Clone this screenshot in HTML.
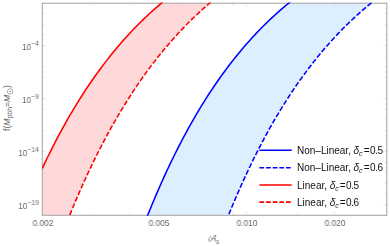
<!DOCTYPE html>
<html><head><meta charset="utf-8"><style>
html,body{margin:0;padding:0;background:#fff;}
body{width:390px;height:246px;position:relative;overflow:hidden;font-family:"Liberation Sans",sans-serif;}
.t{position:absolute;white-space:nowrap;line-height:1;will-change:transform;}
.xl{font-size:8.6px;color:#666;transform:translateX(-50%) scaleX(0.965);top:218.6px;}
.yl{font-size:8.6px;color:#666;text-align:right;right:350.7px;transform-origin:100% 50%;transform:scaleX(0.94);}
.yl sup{font-size:7px;vertical-align:baseline;position:relative;top:-3.6px;line-height:0;letter-spacing:0.25px;}
.lg{font-size:10px;color:#111;left:297.4px;}
.lg .e{margin-left:1.1px;}
.lg .d{letter-spacing:-0.35px;margin-left:0.35px;}
.lg i{margin-left:-0.2px;}
.lg i{font-style:italic;}
.sb{font-size:6.9px;vertical-align:baseline;position:relative;top:2.0px;line-height:0;}
.lg sub{font-size:7px;vertical-align:baseline;position:relative;top:1.6px;font-style:italic;line-height:0;}
</style></head><body>
<svg width="390" height="246" viewBox="0 0 390 246" style="position:absolute;left:0;top:0"><defs><clipPath id="cp"><rect x="42.3" y="3.2" width="344.5" height="212.10000000000002"/></clipPath><clipPath id="cp2"><rect x="41.9" y="2.5" width="345.3" height="213.3"/></clipPath></defs><g clip-path="url(#cp)"><path d="M42.30,168.32 L44.02,164.67 L45.74,161.07 L47.46,157.52 L49.19,154.02 L50.91,150.56 L52.63,147.15 L54.35,143.79 L56.07,140.47 L57.79,137.20 L59.51,133.97 L61.23,130.78 L62.96,127.64 L64.68,124.54 L66.40,121.48 L68.12,118.46 L69.84,115.48 L71.56,112.54 L73.28,109.64 L75.00,106.78 L76.73,103.96 L78.45,101.17 L80.17,98.43 L81.89,95.72 L83.61,93.04 L85.33,90.40 L87.05,87.80 L88.78,85.23 L90.50,82.70 L92.22,80.20 L93.94,77.73 L95.66,75.30 L97.38,72.90 L99.10,70.53 L100.82,68.19 L102.55,65.89 L104.27,63.61 L105.99,61.37 L107.71,59.15 L109.43,56.97 L111.15,54.81 L112.87,52.69 L114.59,50.59 L116.32,48.52 L118.04,46.47 L119.76,44.46 L121.48,42.47 L123.20,40.51 L124.92,38.57 L126.64,36.66 L128.37,34.78 L130.09,32.92 L131.81,31.08 L133.53,29.27 L135.25,27.49 L136.97,25.73 L138.69,23.99 L140.41,22.27 L142.14,20.58 L143.86,18.91 L145.58,17.26 L147.30,15.64 L149.02,14.03 L150.74,12.45 L152.46,10.89 L154.18,9.35 L155.91,7.83 L157.63,6.33 L159.35,4.85 L161.07,3.39 L162.79,1.95 L164.51,0.53 L166.23,-0.88 L167.96,-2.26 L169.68,-3.63 L171.40,-4.97 L173.12,-6.30 L174.84,-7.62 L176.56,-8.91 L178.28,-10.19 L180.00,-11.45 L181.73,-12.69 L183.45,-13.92 L185.17,-15.13 L186.89,-16.32 L188.61,-17.50 L190.33,-18.67 L192.05,-19.81 L193.77,-20.95 L195.50,-22.06 L197.22,-23.17 L198.94,-24.25 L200.66,-25.33 L202.38,-26.39 L204.10,-27.43 L205.82,-28.46 L207.55,-29.48 L209.27,-30.49 L210.99,-31.48 L212.71,-32.46 L214.43,-33.42 L216.15,-34.37 L217.87,-35.31 L219.59,-36.24 L221.32,-37.00 L223.04,-37.00 L224.76,-37.00 L226.48,-37.00 L228.20,-37.00 L229.92,-37.00 L231.64,-37.00 L233.37,-37.00 L235.09,-37.00 L236.81,-37.00 L238.53,-37.00 L240.25,-37.00 L241.97,-37.00 L243.69,-37.00 L245.41,-37.00 L247.14,-37.00 L248.86,-37.00 L250.58,-37.00 L252.30,-37.00 L254.02,-37.00 L255.74,-37.00 L257.46,-37.00 L259.18,-37.00 L260.91,-37.00 L262.63,-37.00 L264.35,-37.00 L266.07,-37.00 L267.79,-37.00 L269.51,-37.00 L271.23,-37.00 L272.96,-37.00 L274.68,-37.00 L276.40,-37.00 L278.12,-37.00 L279.84,-37.00 L281.56,-37.00 L283.28,-37.00 L285.00,-37.00 L286.73,-37.00 L288.45,-37.00 L290.17,-37.00 L291.89,-37.00 L293.61,-37.00 L295.33,-37.00 L297.05,-37.00 L298.77,-37.00 L300.50,-37.00 L302.22,-37.00 L303.94,-37.00 L305.66,-37.00 L307.38,-37.00 L309.10,-37.00 L310.82,-37.00 L312.55,-37.00 L314.27,-37.00 L315.99,-37.00 L317.71,-37.00 L319.43,-37.00 L321.15,-37.00 L322.87,-37.00 L324.59,-37.00 L326.32,-37.00 L328.04,-37.00 L329.76,-37.00 L331.48,-37.00 L333.20,-37.00 L334.92,-37.00 L336.64,-37.00 L338.36,-37.00 L340.09,-37.00 L341.81,-37.00 L343.53,-37.00 L345.25,-37.00 L346.97,-37.00 L348.69,-37.00 L350.41,-37.00 L352.14,-37.00 L353.86,-37.00 L355.58,-37.00 L357.30,-37.00 L359.02,-37.00 L360.74,-37.00 L362.46,-37.00 L364.18,-37.00 L365.91,-37.00 L367.63,-37.00 L369.35,-37.00 L371.07,-37.00 L372.79,-37.00 L374.51,-37.00 L376.23,-37.00 L377.95,-37.00 L379.68,-37.00 L381.40,-37.00 L383.12,-37.00 L384.84,-37.00 L386.56,-37.00 L386.56,-37.00 L384.84,-37.00 L383.12,-37.00 L381.40,-37.00 L379.68,-37.00 L377.95,-37.00 L376.23,-37.00 L374.51,-37.00 L372.79,-37.00 L371.07,-37.00 L369.35,-37.00 L367.63,-37.00 L365.91,-37.00 L364.18,-37.00 L362.46,-37.00 L360.74,-37.00 L359.02,-37.00 L357.30,-37.00 L355.58,-37.00 L353.86,-37.00 L352.14,-37.00 L350.41,-37.00 L348.69,-37.00 L346.97,-37.00 L345.25,-37.00 L343.53,-37.00 L341.81,-37.00 L340.09,-37.00 L338.36,-37.00 L336.64,-37.00 L334.92,-37.00 L333.20,-37.00 L331.48,-37.00 L329.76,-37.00 L328.04,-37.00 L326.32,-37.00 L324.59,-37.00 L322.87,-37.00 L321.15,-37.00 L319.43,-37.00 L317.71,-37.00 L315.99,-37.00 L314.27,-37.00 L312.55,-37.00 L310.82,-37.00 L309.10,-37.00 L307.38,-37.00 L305.66,-37.00 L303.94,-37.00 L302.22,-37.00 L300.50,-37.00 L298.77,-37.00 L297.05,-37.00 L295.33,-37.00 L293.61,-37.00 L291.89,-37.00 L290.17,-37.00 L288.45,-37.00 L286.73,-37.00 L285.00,-37.00 L283.28,-37.00 L281.56,-37.00 L279.84,-37.00 L278.12,-37.00 L276.40,-37.00 L274.68,-37.00 L272.96,-37.00 L271.23,-37.00 L269.51,-37.00 L267.79,-37.00 L266.07,-36.68 L264.35,-35.69 L262.63,-34.69 L260.91,-33.67 L259.18,-32.65 L257.46,-31.61 L255.74,-30.55 L254.02,-29.49 L252.30,-28.41 L250.58,-27.32 L248.86,-26.21 L247.14,-25.10 L245.41,-23.96 L243.69,-22.82 L241.97,-21.65 L240.25,-20.48 L238.53,-19.29 L236.81,-18.08 L235.09,-16.86 L233.37,-15.63 L231.64,-14.38 L229.92,-13.11 L228.20,-11.83 L226.48,-10.53 L224.76,-9.22 L223.04,-7.89 L221.32,-6.54 L219.59,-5.17 L217.87,-3.79 L216.15,-2.39 L214.43,-0.98 L212.71,0.46 L210.99,1.91 L209.27,3.38 L207.55,4.87 L205.82,6.38 L204.10,7.91 L202.38,9.46 L200.66,11.03 L198.94,12.61 L197.22,14.22 L195.50,15.85 L193.77,17.50 L192.05,19.17 L190.33,20.86 L188.61,22.57 L186.89,24.31 L185.17,26.07 L183.45,27.85 L181.73,29.65 L180.00,31.48 L178.28,33.32 L176.56,35.20 L174.84,37.10 L173.12,39.02 L171.40,40.96 L169.68,42.94 L167.96,44.93 L166.23,46.96 L164.51,49.01 L162.79,51.08 L161.07,53.19 L159.35,55.32 L157.63,57.48 L155.91,59.66 L154.18,61.88 L152.46,64.12 L150.74,66.39 L149.02,68.70 L147.30,71.03 L145.58,73.39 L143.86,75.78 L142.14,78.21 L140.41,80.67 L138.69,83.16 L136.97,85.68 L135.25,88.23 L133.53,90.82 L131.81,93.44 L130.09,96.10 L128.37,98.79 L126.64,101.51 L124.92,104.28 L123.20,107.07 L121.48,109.91 L119.76,112.78 L118.04,115.69 L116.32,118.64 L114.59,121.63 L112.87,124.66 L111.15,127.72 L109.43,130.83 L107.71,133.98 L105.99,137.17 L104.27,140.40 L102.55,143.68 L100.82,146.99 L99.10,150.36 L97.38,153.76 L95.66,157.22 L93.94,160.71 L92.22,164.26 L90.50,167.85 L88.78,171.49 L87.05,175.17 L85.33,178.91 L83.61,182.69 L81.89,186.53 L80.17,190.42 L78.45,194.35 L76.73,198.34 L75.00,202.39 L73.28,206.49 L71.56,210.64 L69.84,214.85 L68.12,219.11 L66.40,223.43 L64.68,227.81 L62.96,232.24 L61.23,236.74 L59.51,241.29 L57.79,245.91 L56.07,250.59 L54.35,255.33 L52.63,255.50 L50.91,255.50 L49.19,255.50 L47.46,255.50 L45.74,255.50 L44.02,255.50 L42.30,255.50 Z" fill="#ffd9d9"/><path d="M42.30,255.50 L44.02,255.50 L45.74,255.50 L47.46,255.50 L49.19,255.50 L50.91,255.50 L52.63,255.50 L54.35,255.50 L56.07,255.50 L57.79,255.50 L59.51,255.50 L61.23,255.50 L62.96,255.50 L64.68,255.50 L66.40,255.50 L68.12,255.50 L69.84,255.50 L71.56,255.50 L73.28,255.50 L75.00,255.50 L76.73,255.50 L78.45,255.50 L80.17,255.50 L81.89,255.50 L83.61,255.50 L85.33,255.50 L87.05,255.50 L88.78,255.50 L90.50,255.50 L92.22,255.50 L93.94,255.50 L95.66,255.50 L97.38,255.50 L99.10,255.50 L100.82,255.50 L102.55,255.50 L104.27,255.50 L105.99,255.50 L107.71,255.50 L109.43,255.50 L111.15,255.50 L112.87,255.50 L114.59,255.50 L116.32,255.50 L118.04,255.50 L119.76,255.50 L121.48,255.50 L123.20,255.50 L124.92,255.50 L126.64,255.50 L128.37,255.50 L130.09,255.50 L131.81,255.50 L133.53,252.66 L135.25,247.89 L136.97,243.18 L138.69,238.53 L140.41,233.95 L142.14,229.43 L143.86,224.97 L145.58,220.56 L147.30,216.22 L149.02,211.94 L150.74,207.72 L152.46,203.55 L154.18,199.44 L155.91,195.38 L157.63,191.38 L159.35,187.44 L161.07,183.54 L162.79,179.70 L164.51,175.92 L166.23,172.18 L167.96,168.49 L169.68,164.85 L171.40,161.27 L173.12,157.73 L174.84,154.24 L176.56,150.79 L178.28,147.40 L180.00,144.04 L181.73,140.74 L183.45,137.48 L185.17,134.26 L186.89,131.09 L188.61,127.95 L190.33,124.87 L192.05,121.82 L193.77,118.81 L195.50,115.85 L197.22,112.92 L198.94,110.04 L200.66,107.19 L202.38,104.39 L204.10,101.62 L205.82,98.88 L207.55,96.19 L209.27,93.53 L210.99,90.91 L212.71,88.32 L214.43,85.77 L216.15,83.25 L217.87,80.77 L219.59,78.32 L221.32,75.90 L223.04,73.52 L224.76,71.17 L226.48,68.85 L228.20,66.56 L229.92,64.30 L231.64,62.08 L233.37,59.88 L235.09,57.71 L236.81,55.58 L238.53,53.47 L240.25,51.39 L241.97,49.34 L243.69,47.31 L245.41,45.32 L247.14,43.35 L248.86,41.40 L250.58,39.49 L252.30,37.60 L254.02,35.73 L255.74,33.89 L257.46,32.08 L259.18,30.29 L260.91,28.53 L262.63,26.78 L264.35,25.07 L266.07,23.37 L267.79,21.70 L269.51,20.05 L271.23,18.43 L272.96,16.82 L274.68,15.24 L276.40,13.68 L278.12,12.14 L279.84,10.62 L281.56,9.12 L283.28,7.64 L285.00,6.18 L286.73,4.75 L288.45,3.33 L290.17,1.93 L291.89,0.55 L293.61,-0.81 L295.33,-2.16 L297.05,-3.48 L298.77,-4.79 L300.50,-6.08 L302.22,-7.35 L303.94,-8.60 L305.66,-9.84 L307.38,-11.06 L309.10,-12.26 L310.82,-13.45 L312.55,-14.62 L314.27,-15.78 L315.99,-16.92 L317.71,-18.04 L319.43,-19.15 L321.15,-20.24 L322.87,-21.32 L324.59,-22.38 L326.32,-23.43 L328.04,-24.47 L329.76,-25.49 L331.48,-26.50 L333.20,-27.49 L334.92,-28.47 L336.64,-29.44 L338.36,-30.39 L340.09,-31.33 L341.81,-32.26 L343.53,-33.17 L345.25,-34.07 L346.97,-34.96 L348.69,-35.84 L350.41,-36.71 L352.14,-37.00 L353.86,-37.00 L355.58,-37.00 L357.30,-37.00 L359.02,-37.00 L360.74,-37.00 L362.46,-37.00 L364.18,-37.00 L365.91,-37.00 L367.63,-37.00 L369.35,-37.00 L371.07,-37.00 L372.79,-37.00 L374.51,-37.00 L376.23,-37.00 L377.95,-37.00 L379.68,-37.00 L381.40,-37.00 L383.12,-37.00 L384.84,-37.00 L386.56,-37.00 L386.56,-8.75 L384.84,-7.50 L383.12,-6.23 L381.40,-4.95 L379.68,-3.65 L377.95,-2.33 L376.23,-0.99 L374.51,0.36 L372.79,1.73 L371.07,3.13 L369.35,4.53 L367.63,5.96 L365.91,7.41 L364.18,8.88 L362.46,10.36 L360.74,11.87 L359.02,13.39 L357.30,14.94 L355.58,16.51 L353.86,18.10 L352.14,19.71 L350.41,21.34 L348.69,22.99 L346.97,24.67 L345.25,26.36 L343.53,28.08 L341.81,29.83 L340.09,31.59 L338.36,33.38 L336.64,35.20 L334.92,37.04 L333.20,38.90 L331.48,40.79 L329.76,42.70 L328.04,44.64 L326.32,46.61 L324.59,48.60 L322.87,50.62 L321.15,52.67 L319.43,54.74 L317.71,56.84 L315.99,58.97 L314.27,61.13 L312.55,63.32 L310.82,65.54 L309.10,67.78 L307.38,70.06 L305.66,72.37 L303.94,74.71 L302.22,77.08 L300.50,79.48 L298.77,81.92 L297.05,84.38 L295.33,86.89 L293.61,89.42 L291.89,91.99 L290.17,94.59 L288.45,97.23 L286.73,99.91 L285.00,102.62 L283.28,105.37 L281.56,108.15 L279.84,110.97 L278.12,113.83 L276.40,116.73 L274.68,119.67 L272.96,122.65 L271.23,125.66 L269.51,128.72 L267.79,131.82 L266.07,134.97 L264.35,138.15 L262.63,141.38 L260.91,144.65 L259.18,147.96 L257.46,151.33 L255.74,154.73 L254.02,158.18 L252.30,161.68 L250.58,165.23 L248.86,168.82 L247.14,172.47 L245.41,176.16 L243.69,179.90 L241.97,183.69 L240.25,187.54 L238.53,191.44 L236.81,195.38 L235.09,199.39 L233.37,203.44 L231.64,207.56 L229.92,211.73 L228.20,215.95 L226.48,220.23 L224.76,224.57 L223.04,228.97 L221.32,233.43 L219.59,237.95 L217.87,242.53 L216.15,247.17 L214.43,251.88 L212.71,255.50 L210.99,255.50 L209.27,255.50 L207.55,255.50 L205.82,255.50 L204.10,255.50 L202.38,255.50 L200.66,255.50 L198.94,255.50 L197.22,255.50 L195.50,255.50 L193.77,255.50 L192.05,255.50 L190.33,255.50 L188.61,255.50 L186.89,255.50 L185.17,255.50 L183.45,255.50 L181.73,255.50 L180.00,255.50 L178.28,255.50 L176.56,255.50 L174.84,255.50 L173.12,255.50 L171.40,255.50 L169.68,255.50 L167.96,255.50 L166.23,255.50 L164.51,255.50 L162.79,255.50 L161.07,255.50 L159.35,255.50 L157.63,255.50 L155.91,255.50 L154.18,255.50 L152.46,255.50 L150.74,255.50 L149.02,255.50 L147.30,255.50 L145.58,255.50 L143.86,255.50 L142.14,255.50 L140.41,255.50 L138.69,255.50 L136.97,255.50 L135.25,255.50 L133.53,255.50 L131.81,255.50 L130.09,255.50 L128.37,255.50 L126.64,255.50 L124.92,255.50 L123.20,255.50 L121.48,255.50 L119.76,255.50 L118.04,255.50 L116.32,255.50 L114.59,255.50 L112.87,255.50 L111.15,255.50 L109.43,255.50 L107.71,255.50 L105.99,255.50 L104.27,255.50 L102.55,255.50 L100.82,255.50 L99.10,255.50 L97.38,255.50 L95.66,255.50 L93.94,255.50 L92.22,255.50 L90.50,255.50 L88.78,255.50 L87.05,255.50 L85.33,255.50 L83.61,255.50 L81.89,255.50 L80.17,255.50 L78.45,255.50 L76.73,255.50 L75.00,255.50 L73.28,255.50 L71.56,255.50 L69.84,255.50 L68.12,255.50 L66.40,255.50 L64.68,255.50 L62.96,255.50 L61.23,255.50 L59.51,255.50 L57.79,255.50 L56.07,255.50 L54.35,255.50 L52.63,255.50 L50.91,255.50 L49.19,255.50 L47.46,255.50 L45.74,255.50 L44.02,255.50 L42.30,255.50 Z" fill="#ddeeff"/></g><g stroke="#d4d4d4" stroke-width="0.6"><line x1="42.3" x2="44.699999999999996" y1="3.00" y2="3.00"/><line x1="386.8" x2="384.40000000000003" y1="3.00" y2="3.00"/><line x1="42.3" x2="44.699999999999996" y1="13.62" y2="13.62"/><line x1="386.8" x2="384.40000000000003" y1="13.62" y2="13.62"/><line x1="42.3" x2="44.699999999999996" y1="24.25" y2="24.25"/><line x1="386.8" x2="384.40000000000003" y1="24.25" y2="24.25"/><line x1="42.3" x2="44.699999999999996" y1="34.88" y2="34.88"/><line x1="386.8" x2="384.40000000000003" y1="34.88" y2="34.88"/><line x1="42.3" x2="46.3" y1="45.50" y2="45.50"/><line x1="386.8" x2="382.8" y1="45.50" y2="45.50"/><line x1="42.3" x2="44.699999999999996" y1="56.12" y2="56.12"/><line x1="386.8" x2="384.40000000000003" y1="56.12" y2="56.12"/><line x1="42.3" x2="44.699999999999996" y1="66.75" y2="66.75"/><line x1="386.8" x2="384.40000000000003" y1="66.75" y2="66.75"/><line x1="42.3" x2="44.699999999999996" y1="77.38" y2="77.38"/><line x1="386.8" x2="384.40000000000003" y1="77.38" y2="77.38"/><line x1="42.3" x2="44.699999999999996" y1="88.00" y2="88.00"/><line x1="386.8" x2="384.40000000000003" y1="88.00" y2="88.00"/><line x1="42.3" x2="46.3" y1="98.62" y2="98.62"/><line x1="386.8" x2="382.8" y1="98.62" y2="98.62"/><line x1="42.3" x2="44.699999999999996" y1="109.25" y2="109.25"/><line x1="386.8" x2="384.40000000000003" y1="109.25" y2="109.25"/><line x1="42.3" x2="44.699999999999996" y1="119.88" y2="119.88"/><line x1="386.8" x2="384.40000000000003" y1="119.88" y2="119.88"/><line x1="42.3" x2="44.699999999999996" y1="130.50" y2="130.50"/><line x1="386.8" x2="384.40000000000003" y1="130.50" y2="130.50"/><line x1="42.3" x2="44.699999999999996" y1="141.12" y2="141.12"/><line x1="386.8" x2="384.40000000000003" y1="141.12" y2="141.12"/><line x1="42.3" x2="46.3" y1="151.75" y2="151.75"/><line x1="386.8" x2="382.8" y1="151.75" y2="151.75"/><line x1="42.3" x2="44.699999999999996" y1="162.38" y2="162.38"/><line x1="386.8" x2="384.40000000000003" y1="162.38" y2="162.38"/><line x1="42.3" x2="44.699999999999996" y1="173.00" y2="173.00"/><line x1="386.8" x2="384.40000000000003" y1="173.00" y2="173.00"/><line x1="42.3" x2="44.699999999999996" y1="183.62" y2="183.62"/><line x1="386.8" x2="384.40000000000003" y1="183.62" y2="183.62"/><line x1="42.3" x2="44.699999999999996" y1="194.25" y2="194.25"/><line x1="386.8" x2="384.40000000000003" y1="194.25" y2="194.25"/><line x1="42.3" x2="46.3" y1="204.88" y2="204.88"/><line x1="386.8" x2="382.8" y1="204.88" y2="204.88"/><line x1="42.3" x2="44.699999999999996" y1="215.50" y2="215.50"/><line x1="386.8" x2="384.40000000000003" y1="215.50" y2="215.50"/><line x1="93.72" x2="93.72" y1="215.3" y2="212.9"/><line x1="93.72" x2="93.72" y1="3.2" y2="5.6"/><line x1="130.20" x2="130.20" y1="215.3" y2="212.9"/><line x1="130.20" x2="130.20" y1="3.2" y2="5.6"/><line x1="158.50" x2="158.50" y1="215.3" y2="211.3"/><line x1="158.50" x2="158.50" y1="3.2" y2="7.2"/><line x1="181.62" x2="181.62" y1="215.3" y2="212.9"/><line x1="181.62" x2="181.62" y1="3.2" y2="5.6"/><line x1="201.17" x2="201.17" y1="215.3" y2="212.9"/><line x1="201.17" x2="201.17" y1="3.2" y2="5.6"/><line x1="218.10" x2="218.10" y1="215.3" y2="212.9"/><line x1="218.10" x2="218.10" y1="3.2" y2="5.6"/><line x1="233.04" x2="233.04" y1="215.3" y2="212.9"/><line x1="233.04" x2="233.04" y1="3.2" y2="5.6"/><line x1="246.40" x2="246.40" y1="215.3" y2="211.3"/><line x1="246.40" x2="246.40" y1="3.2" y2="7.2"/><line x1="297.82" x2="297.82" y1="215.3" y2="212.9"/><line x1="297.82" x2="297.82" y1="3.2" y2="5.6"/><line x1="334.30" x2="334.30" y1="215.3" y2="211.3"/><line x1="334.30" x2="334.30" y1="3.2" y2="7.2"/></g><rect x="42.3" y="3.2" width="344.5" height="212.10000000000002" fill="none" stroke="#a6a6a6" stroke-width="1.05"/><g clip-path="url(#cp2)"><path d="M42.30,168.32 L44.02,164.67 L45.74,161.07 L47.46,157.52 L49.19,154.02 L50.91,150.56 L52.63,147.15 L54.35,143.79 L56.07,140.47 L57.79,137.20 L59.51,133.97 L61.23,130.78 L62.96,127.64 L64.68,124.54 L66.40,121.48 L68.12,118.46 L69.84,115.48 L71.56,112.54 L73.28,109.64 L75.00,106.78 L76.73,103.96 L78.45,101.17 L80.17,98.43 L81.89,95.72 L83.61,93.04 L85.33,90.40 L87.05,87.80 L88.78,85.23 L90.50,82.70 L92.22,80.20 L93.94,77.73 L95.66,75.30 L97.38,72.90 L99.10,70.53 L100.82,68.19 L102.55,65.89 L104.27,63.61 L105.99,61.37 L107.71,59.15 L109.43,56.97 L111.15,54.81 L112.87,52.69 L114.59,50.59 L116.32,48.52 L118.04,46.47 L119.76,44.46 L121.48,42.47 L123.20,40.51 L124.92,38.57 L126.64,36.66 L128.37,34.78 L130.09,32.92 L131.81,31.08 L133.53,29.27 L135.25,27.49 L136.97,25.73 L138.69,23.99 L140.41,22.27 L142.14,20.58 L143.86,18.91 L145.58,17.26 L147.30,15.64 L149.02,14.03 L150.74,12.45 L152.46,10.89 L154.18,9.35 L155.91,7.83 L157.63,6.33 L159.35,4.85 L161.07,3.39 L162.79,1.95 L164.51,0.53 L166.23,-0.88 L167.96,-2.26 L169.68,-3.63 L171.40,-4.97 L173.12,-6.30 L174.84,-7.62 L176.56,-8.91 L178.28,-10.19 L180.00,-11.45 L181.73,-12.69 L183.45,-13.92 L185.17,-15.13 L186.89,-16.32 L188.61,-17.50 L190.33,-18.67 L192.05,-19.81 L193.77,-20.95 L195.50,-22.06 L197.22,-23.17 L198.94,-24.25 L200.66,-25.33 L202.38,-26.39 L204.10,-27.43 L205.82,-28.46 L207.55,-29.48 L209.27,-30.49 L210.99,-31.48 L212.71,-32.46 L214.43,-33.42 L216.15,-34.37 L217.87,-35.31 L219.59,-36.24 L221.32,-37.00 L223.04,-37.00 L224.76,-37.00 L226.48,-37.00 L228.20,-37.00 L229.92,-37.00 L231.64,-37.00 L233.37,-37.00 L235.09,-37.00 L236.81,-37.00 L238.53,-37.00 L240.25,-37.00 L241.97,-37.00 L243.69,-37.00 L245.41,-37.00 L247.14,-37.00 L248.86,-37.00 L250.58,-37.00 L252.30,-37.00 L254.02,-37.00 L255.74,-37.00 L257.46,-37.00 L259.18,-37.00 L260.91,-37.00 L262.63,-37.00 L264.35,-37.00 L266.07,-37.00 L267.79,-37.00 L269.51,-37.00 L271.23,-37.00 L272.96,-37.00 L274.68,-37.00 L276.40,-37.00 L278.12,-37.00 L279.84,-37.00 L281.56,-37.00 L283.28,-37.00 L285.00,-37.00 L286.73,-37.00 L288.45,-37.00 L290.17,-37.00 L291.89,-37.00 L293.61,-37.00 L295.33,-37.00 L297.05,-37.00 L298.77,-37.00 L300.50,-37.00 L302.22,-37.00 L303.94,-37.00 L305.66,-37.00 L307.38,-37.00 L309.10,-37.00 L310.82,-37.00 L312.55,-37.00 L314.27,-37.00 L315.99,-37.00 L317.71,-37.00 L319.43,-37.00 L321.15,-37.00 L322.87,-37.00 L324.59,-37.00 L326.32,-37.00 L328.04,-37.00 L329.76,-37.00 L331.48,-37.00 L333.20,-37.00 L334.92,-37.00 L336.64,-37.00 L338.36,-37.00 L340.09,-37.00 L341.81,-37.00 L343.53,-37.00 L345.25,-37.00 L346.97,-37.00 L348.69,-37.00 L350.41,-37.00 L352.14,-37.00 L353.86,-37.00 L355.58,-37.00 L357.30,-37.00 L359.02,-37.00 L360.74,-37.00 L362.46,-37.00 L364.18,-37.00 L365.91,-37.00 L367.63,-37.00 L369.35,-37.00 L371.07,-37.00 L372.79,-37.00 L374.51,-37.00 L376.23,-37.00 L377.95,-37.00 L379.68,-37.00 L381.40,-37.00 L383.12,-37.00 L384.84,-37.00 L386.56,-37.00" fill="none" stroke="#f00" stroke-width="1.55"/><path d="M42.30,255.50 L44.02,255.50 L45.74,255.50 L47.46,255.50 L49.19,255.50 L50.91,255.50 L52.63,255.50 L54.35,255.33 L56.07,250.59 L57.79,245.91 L59.51,241.29 L61.23,236.74 L62.96,232.24 L64.68,227.81 L66.40,223.43 L68.12,219.11 L69.84,214.85 L71.56,210.64 L73.28,206.49 L75.00,202.39 L76.73,198.34 L78.45,194.35 L80.17,190.42 L81.89,186.53 L83.61,182.69 L85.33,178.91 L87.05,175.17 L88.78,171.49 L90.50,167.85 L92.22,164.26 L93.94,160.71 L95.66,157.22 L97.38,153.76 L99.10,150.36 L100.82,146.99 L102.55,143.68 L104.27,140.40 L105.99,137.17 L107.71,133.98 L109.43,130.83 L111.15,127.72 L112.87,124.66 L114.59,121.63 L116.32,118.64 L118.04,115.69 L119.76,112.78 L121.48,109.91 L123.20,107.07 L124.92,104.28 L126.64,101.51 L128.37,98.79 L130.09,96.10 L131.81,93.44 L133.53,90.82 L135.25,88.23 L136.97,85.68 L138.69,83.16 L140.41,80.67 L142.14,78.21 L143.86,75.78 L145.58,73.39 L147.30,71.03 L149.02,68.70 L150.74,66.39 L152.46,64.12 L154.18,61.88 L155.91,59.66 L157.63,57.48 L159.35,55.32 L161.07,53.19 L162.79,51.08 L164.51,49.01 L166.23,46.96 L167.96,44.93 L169.68,42.94 L171.40,40.96 L173.12,39.02 L174.84,37.10 L176.56,35.20 L178.28,33.32 L180.00,31.48 L181.73,29.65 L183.45,27.85 L185.17,26.07 L186.89,24.31 L188.61,22.57 L190.33,20.86 L192.05,19.17 L193.77,17.50 L195.50,15.85 L197.22,14.22 L198.94,12.61 L200.66,11.03 L202.38,9.46 L204.10,7.91 L205.82,6.38 L207.55,4.87 L209.27,3.38 L210.99,1.91 L212.71,0.46 L214.43,-0.98 L216.15,-2.39 L217.87,-3.79 L219.59,-5.17 L221.32,-6.54 L223.04,-7.89 L224.76,-9.22 L226.48,-10.53 L228.20,-11.83 L229.92,-13.11 L231.64,-14.38 L233.37,-15.63 L235.09,-16.86 L236.81,-18.08 L238.53,-19.29 L240.25,-20.48 L241.97,-21.65 L243.69,-22.82 L245.41,-23.96 L247.14,-25.10 L248.86,-26.21 L250.58,-27.32 L252.30,-28.41 L254.02,-29.49 L255.74,-30.55 L257.46,-31.61 L259.18,-32.65 L260.91,-33.67 L262.63,-34.69 L264.35,-35.69 L266.07,-36.68 L267.79,-37.00 L269.51,-37.00 L271.23,-37.00 L272.96,-37.00 L274.68,-37.00 L276.40,-37.00 L278.12,-37.00 L279.84,-37.00 L281.56,-37.00 L283.28,-37.00 L285.00,-37.00 L286.73,-37.00 L288.45,-37.00 L290.17,-37.00 L291.89,-37.00 L293.61,-37.00 L295.33,-37.00 L297.05,-37.00 L298.77,-37.00 L300.50,-37.00 L302.22,-37.00 L303.94,-37.00 L305.66,-37.00 L307.38,-37.00 L309.10,-37.00 L310.82,-37.00 L312.55,-37.00 L314.27,-37.00 L315.99,-37.00 L317.71,-37.00 L319.43,-37.00 L321.15,-37.00 L322.87,-37.00 L324.59,-37.00 L326.32,-37.00 L328.04,-37.00 L329.76,-37.00 L331.48,-37.00 L333.20,-37.00 L334.92,-37.00 L336.64,-37.00 L338.36,-37.00 L340.09,-37.00 L341.81,-37.00 L343.53,-37.00 L345.25,-37.00 L346.97,-37.00 L348.69,-37.00 L350.41,-37.00 L352.14,-37.00 L353.86,-37.00 L355.58,-37.00 L357.30,-37.00 L359.02,-37.00 L360.74,-37.00 L362.46,-37.00 L364.18,-37.00 L365.91,-37.00 L367.63,-37.00 L369.35,-37.00 L371.07,-37.00 L372.79,-37.00 L374.51,-37.00 L376.23,-37.00 L377.95,-37.00 L379.68,-37.00 L381.40,-37.00 L383.12,-37.00 L384.84,-37.00 L386.56,-37.00" fill="none" stroke="#f00" stroke-width="1.55" stroke-dasharray="5.14,2.08" stroke-dashoffset="2.47"/><path d="M42.30,255.50 L44.02,255.50 L45.74,255.50 L47.46,255.50 L49.19,255.50 L50.91,255.50 L52.63,255.50 L54.35,255.50 L56.07,255.50 L57.79,255.50 L59.51,255.50 L61.23,255.50 L62.96,255.50 L64.68,255.50 L66.40,255.50 L68.12,255.50 L69.84,255.50 L71.56,255.50 L73.28,255.50 L75.00,255.50 L76.73,255.50 L78.45,255.50 L80.17,255.50 L81.89,255.50 L83.61,255.50 L85.33,255.50 L87.05,255.50 L88.78,255.50 L90.50,255.50 L92.22,255.50 L93.94,255.50 L95.66,255.50 L97.38,255.50 L99.10,255.50 L100.82,255.50 L102.55,255.50 L104.27,255.50 L105.99,255.50 L107.71,255.50 L109.43,255.50 L111.15,255.50 L112.87,255.50 L114.59,255.50 L116.32,255.50 L118.04,255.50 L119.76,255.50 L121.48,255.50 L123.20,255.50 L124.92,255.50 L126.64,255.50 L128.37,255.50 L130.09,255.50 L131.81,255.50 L133.53,252.66 L135.25,247.89 L136.97,243.18 L138.69,238.53 L140.41,233.95 L142.14,229.43 L143.86,224.97 L145.58,220.56 L147.30,216.22 L149.02,211.94 L150.74,207.72 L152.46,203.55 L154.18,199.44 L155.91,195.38 L157.63,191.38 L159.35,187.44 L161.07,183.54 L162.79,179.70 L164.51,175.92 L166.23,172.18 L167.96,168.49 L169.68,164.85 L171.40,161.27 L173.12,157.73 L174.84,154.24 L176.56,150.79 L178.28,147.40 L180.00,144.04 L181.73,140.74 L183.45,137.48 L185.17,134.26 L186.89,131.09 L188.61,127.95 L190.33,124.87 L192.05,121.82 L193.77,118.81 L195.50,115.85 L197.22,112.92 L198.94,110.04 L200.66,107.19 L202.38,104.39 L204.10,101.62 L205.82,98.88 L207.55,96.19 L209.27,93.53 L210.99,90.91 L212.71,88.32 L214.43,85.77 L216.15,83.25 L217.87,80.77 L219.59,78.32 L221.32,75.90 L223.04,73.52 L224.76,71.17 L226.48,68.85 L228.20,66.56 L229.92,64.30 L231.64,62.08 L233.37,59.88 L235.09,57.71 L236.81,55.58 L238.53,53.47 L240.25,51.39 L241.97,49.34 L243.69,47.31 L245.41,45.32 L247.14,43.35 L248.86,41.40 L250.58,39.49 L252.30,37.60 L254.02,35.73 L255.74,33.89 L257.46,32.08 L259.18,30.29 L260.91,28.53 L262.63,26.78 L264.35,25.07 L266.07,23.37 L267.79,21.70 L269.51,20.05 L271.23,18.43 L272.96,16.82 L274.68,15.24 L276.40,13.68 L278.12,12.14 L279.84,10.62 L281.56,9.12 L283.28,7.64 L285.00,6.18 L286.73,4.75 L288.45,3.33 L290.17,1.93 L291.89,0.55 L293.61,-0.81 L295.33,-2.16 L297.05,-3.48 L298.77,-4.79 L300.50,-6.08 L302.22,-7.35 L303.94,-8.60 L305.66,-9.84 L307.38,-11.06 L309.10,-12.26 L310.82,-13.45 L312.55,-14.62 L314.27,-15.78 L315.99,-16.92 L317.71,-18.04 L319.43,-19.15 L321.15,-20.24 L322.87,-21.32 L324.59,-22.38 L326.32,-23.43 L328.04,-24.47 L329.76,-25.49 L331.48,-26.50 L333.20,-27.49 L334.92,-28.47 L336.64,-29.44 L338.36,-30.39 L340.09,-31.33 L341.81,-32.26 L343.53,-33.17 L345.25,-34.07 L346.97,-34.96 L348.69,-35.84 L350.41,-36.71 L352.14,-37.00 L353.86,-37.00 L355.58,-37.00 L357.30,-37.00 L359.02,-37.00 L360.74,-37.00 L362.46,-37.00 L364.18,-37.00 L365.91,-37.00 L367.63,-37.00 L369.35,-37.00 L371.07,-37.00 L372.79,-37.00 L374.51,-37.00 L376.23,-37.00 L377.95,-37.00 L379.68,-37.00 L381.40,-37.00 L383.12,-37.00 L384.84,-37.00 L386.56,-37.00" fill="none" stroke="#00f" stroke-width="1.55"/><path d="M42.30,255.50 L44.02,255.50 L45.74,255.50 L47.46,255.50 L49.19,255.50 L50.91,255.50 L52.63,255.50 L54.35,255.50 L56.07,255.50 L57.79,255.50 L59.51,255.50 L61.23,255.50 L62.96,255.50 L64.68,255.50 L66.40,255.50 L68.12,255.50 L69.84,255.50 L71.56,255.50 L73.28,255.50 L75.00,255.50 L76.73,255.50 L78.45,255.50 L80.17,255.50 L81.89,255.50 L83.61,255.50 L85.33,255.50 L87.05,255.50 L88.78,255.50 L90.50,255.50 L92.22,255.50 L93.94,255.50 L95.66,255.50 L97.38,255.50 L99.10,255.50 L100.82,255.50 L102.55,255.50 L104.27,255.50 L105.99,255.50 L107.71,255.50 L109.43,255.50 L111.15,255.50 L112.87,255.50 L114.59,255.50 L116.32,255.50 L118.04,255.50 L119.76,255.50 L121.48,255.50 L123.20,255.50 L124.92,255.50 L126.64,255.50 L128.37,255.50 L130.09,255.50 L131.81,255.50 L133.53,255.50 L135.25,255.50 L136.97,255.50 L138.69,255.50 L140.41,255.50 L142.14,255.50 L143.86,255.50 L145.58,255.50 L147.30,255.50 L149.02,255.50 L150.74,255.50 L152.46,255.50 L154.18,255.50 L155.91,255.50 L157.63,255.50 L159.35,255.50 L161.07,255.50 L162.79,255.50 L164.51,255.50 L166.23,255.50 L167.96,255.50 L169.68,255.50 L171.40,255.50 L173.12,255.50 L174.84,255.50 L176.56,255.50 L178.28,255.50 L180.00,255.50 L181.73,255.50 L183.45,255.50 L185.17,255.50 L186.89,255.50 L188.61,255.50 L190.33,255.50 L192.05,255.50 L193.77,255.50 L195.50,255.50 L197.22,255.50 L198.94,255.50 L200.66,255.50 L202.38,255.50 L204.10,255.50 L205.82,255.50 L207.55,255.50 L209.27,255.50 L210.99,255.50 L212.71,255.50 L214.43,251.88 L216.15,247.17 L217.87,242.53 L219.59,237.95 L221.32,233.43 L223.04,228.97 L224.76,224.57 L226.48,220.23 L228.20,215.95 L229.92,211.73 L231.64,207.56 L233.37,203.44 L235.09,199.39 L236.81,195.38 L238.53,191.44 L240.25,187.54 L241.97,183.69 L243.69,179.90 L245.41,176.16 L247.14,172.47 L248.86,168.82 L250.58,165.23 L252.30,161.68 L254.02,158.18 L255.74,154.73 L257.46,151.33 L259.18,147.96 L260.91,144.65 L262.63,141.38 L264.35,138.15 L266.07,134.97 L267.79,131.82 L269.51,128.72 L271.23,125.66 L272.96,122.65 L274.68,119.67 L276.40,116.73 L278.12,113.83 L279.84,110.97 L281.56,108.15 L283.28,105.37 L285.00,102.62 L286.73,99.91 L288.45,97.23 L290.17,94.59 L291.89,91.99 L293.61,89.42 L295.33,86.89 L297.05,84.38 L298.77,81.92 L300.50,79.48 L302.22,77.08 L303.94,74.71 L305.66,72.37 L307.38,70.06 L309.10,67.78 L310.82,65.54 L312.55,63.32 L314.27,61.13 L315.99,58.97 L317.71,56.84 L319.43,54.74 L321.15,52.67 L322.87,50.62 L324.59,48.60 L326.32,46.61 L328.04,44.64 L329.76,42.70 L331.48,40.79 L333.20,38.90 L334.92,37.04 L336.64,35.20 L338.36,33.38 L340.09,31.59 L341.81,29.83 L343.53,28.08 L345.25,26.36 L346.97,24.67 L348.69,22.99 L350.41,21.34 L352.14,19.71 L353.86,18.10 L355.58,16.51 L357.30,14.94 L359.02,13.39 L360.74,11.87 L362.46,10.36 L364.18,8.88 L365.91,7.41 L367.63,5.96 L369.35,4.53 L371.07,3.13 L372.79,1.73 L374.51,0.36 L376.23,-0.99 L377.95,-2.33 L379.68,-3.65 L381.40,-4.95 L383.12,-6.23 L384.84,-7.50 L386.56,-8.75" fill="none" stroke="#00f" stroke-width="1.55" stroke-dasharray="5.14,2.08" stroke-dashoffset="1.9"/></g><line x1="259.4" x2="291.7" y1="150.3" y2="150.3" stroke="#00f" stroke-width="1.55"/><line x1="259.4" x2="291.7" y1="167.7" y2="167.7" stroke="#00f" stroke-width="1.55" stroke-dasharray="4.75,1.9"/><line x1="259.4" x2="291.7" y1="185.0" y2="185.0" stroke="#f00" stroke-width="1.55"/><line x1="259.4" x2="291.7" y1="202.1" y2="202.1" stroke="#f00" stroke-width="1.55" stroke-dasharray="4.75,1.9"/></svg>
<div class="t xl" style="left:43.1px">0.002</div>
<div class="t xl" style="left:159.0px">0.005</div>
<div class="t xl" style="left:246.9px">0.010</div>
<div class="t xl" style="left:334.5px">0.020</div>
<div class="t yl" style="top:42.5px">10<sup>−4</sup></div>
<div class="t yl" style="top:95.6px">10<sup>−9</sup></div>
<div class="t yl" style="top:148.8px">10<sup>−14</sup></div>
<div class="t yl" style="top:201.9px">10<sup>−19</sup></div>
<div class="t lg" style="top:145.90px">Non–Linear, <i>δ</i><sub>c</sub><span class="e">=</span><span class="d">0.5</span></div>
<div class="t lg" style="top:163.30px">Non–Linear, <i>δ</i><sub>c</sub><span class="e">=</span><span class="d">0.6</span></div>
<div class="t lg" style="top:180.60px">Linear, <i>δ</i><sub>c</sub><span class="e">=</span><span class="d">0.5</span></div>
<div class="t lg" style="top:197.70px">Linear, <i>δ</i><sub>c</sub><span class="e">=</span><span class="d">0.6</span></div>
<div class="t" id="ylab" style="will-change:auto;font-size:8.6px;color:#666;left:7.0px;top:108.2px;transform:translate(-50%,-50%) rotate(-90deg);">f(<i>M</i><sub class="sb">pbh</sub>=<i>M</i><sub class="sb"><svg width="6.8" height="6.8" viewBox="0 0 6.8 6.8" style="display:inline-block;vertical-align:-1.3px;overflow:visible"><circle cx="3.4" cy="3.4" r="2.7" fill="none" stroke="#666" stroke-width="0.55"/><circle cx="3.4" cy="3.4" r="0.65" fill="#666"/></svg></sub>)</div>
<svg style="position:absolute;left:207.6px;top:235.2px;overflow:visible" width="9" height="8" viewBox="0 0 9 8"><path d="M2.7,1.2 C1.6,2.2 0.5,4.6 0.8,5.8 C1.1,6.9 2.4,6.6 3.2,5.4 C4.2,3.9 5.2,1.9 6.4,0.6 L8.0,0.6 M7.2,0.6 L7.0,6.5 M3.6,3.9 L7.1,3.9" fill="none" stroke="#5a5a5a" stroke-width="0.6" stroke-linecap="round" stroke-linejoin="round"/></svg>
<div class="t" id="xlab" style="font-size:6.6px;color:#666;left:216.4px;top:238.5px;font-style:italic">s</div>
</body></html>
